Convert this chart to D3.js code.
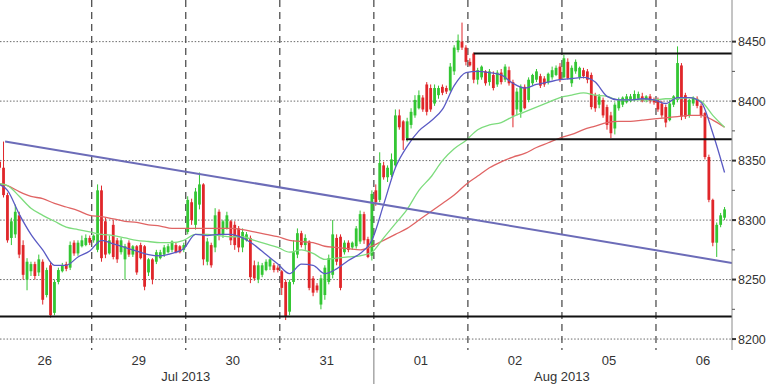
<!DOCTYPE html>
<html><head><meta charset="utf-8">
<script src="https://cdn.jsdelivr.net/npm/d3@7"></script>
<style>html,body{margin:0;padding:0;background:#fff;} svg{display:block;}</style>
</head><body>
<svg id="chart" width="768" height="384"></svg>
<script>
// ---- categories / ticks ----
const dayLabels = ["26","29","30","31","01","02","05","06"];
const dayCenterHours = [12,36,60,84,108,132,156,180];
const monthLabels = ["Jul 2013","Aug 2013"];
const monthCenterHours = [48,144];
const daySeparatorHours = [24,48,72,96,120,144,168];
const monthSeparatorHours = [96];
const yTicks = [8200,8250,8300,8350,8400,8450];
const yMinorTicks = [8225,8275,8325,8375,8425];

// ---- hourly candles (one per hour, trading days only) ----
const openVals = [
 8349,8344,8321,8285,8288,8304,8279,8250,8257,8263,8256,8265,8237,8262,8222,8248,8257,8263,8260,8281,8272,8278,8279,8285,
 8283,8275,8325,8299,8272,8296,8283,8273,8267,8281,8271,8278,8279,8278,8256,8267,8265,8268,8271,8273,8275,8279,8278,8275,
 8290,8315,8296,8313,8330,8265,8279,8277,8307,8288,8293,8299,8296,8293,8277,8283,8285,8262,8250,8254,8258,8261,8262,8260,
 8257,8248,8223,8248,8271,8289,8279,8282,8251,8245,8229,8237,8248,8254,8285,8286,8273,8281,8277,8278,8282,8305,8284,8270,
 8325,8317,8346,8336,8338,8346,8388,8383,8369,8380,8388,8394,8403,8414,8411,8398,8405,8412,8411,8409,8425,8443,8450,8445,
 8433,8440,8418,8420,8425,8416,8422,8414,8424,8418,8426,8416,8393,8391,8412,8401,8415,8418,8421,8419,8416,8420,8422,8429,
 8420,8433,8415,8425,8420,8426,8425,8422,8405,8397,8401,8395,8388,8377,8394,8397,8399,8400,8401,8402,8404,8401,8404,8401,
 8401,8398,8395,8384,8397,8401,8430,8405,8388,8398,8402,8396,8390,8353,8317,8281,8296,8302];
const highVals = [
 8351,8366,8323,8302,8313,8307,8283,8268,8265,8265,8271,8267,8260,8265,8250,8260,8264,8265,8282,8283,8283,8287,8288,8287,
 8288,8330,8329,8302,8287,8300,8285,8285,8280,8283,8279,8279,8281,8279,8268,8268,8275,8275,8279,8280,8283,8281,8279,8281,
 8320,8318,8327,8340,8331,8285,8281,8310,8309,8300,8307,8300,8299,8295,8293,8290,8287,8266,8265,8264,8267,8268,8264,8262,
 8258,8250,8250,8283,8293,8291,8288,8283,8253,8247,8254,8262,8271,8300,8288,8288,8283,8283,8282,8295,8308,8307,8286,8325,
 8330,8357,8349,8346,8356,8393,8393,8384,8386,8394,8405,8409,8405,8416,8414,8414,8413,8414,8413,8432,8447,8456,8466,8447,
 8436,8441,8428,8430,8426,8427,8425,8426,8427,8431,8429,8418,8411,8414,8414,8420,8423,8427,8423,8421,8424,8429,8430,8432,
 8439,8436,8430,8435,8429,8428,8427,8424,8407,8406,8403,8397,8391,8399,8403,8404,8406,8406,8409,8408,8407,8405,8406,8403,
 8403,8400,8397,8401,8405,8446,8432,8407,8402,8404,8404,8398,8391,8355,8318,8298,8306,8311];
const lowVals = [
 8342,8319,8281,8279,8285,8268,8250,8241,8253,8250,8253,8229,8235,8218,8220,8246,8256,8257,8258,8270,8270,8277,8278,8279,
 8281,8273,8265,8268,8271,8267,8264,8271,8250,8269,8269,8254,8267,8241,8253,8246,8263,8267,8269,8272,8273,8272,8272,8273,
 8288,8296,8292,8309,8262,8262,8260,8273,8283,8285,8292,8279,8275,8273,8273,8282,8247,8249,8247,8252,8257,8258,8256,8256,
 8237,8216,8220,8246,8268,8277,8275,8241,8236,8239,8225,8233,8246,8251,8262,8241,8271,8273,8275,8276,8280,8280,8268,8266,
 8312,8315,8334,8332,8336,8344,8376,8359,8366,8377,8386,8393,8391,8388,8391,8396,8402,8405,8406,8408,8422,8441,8443,8430,
 8429,8415,8414,8418,8413,8413,8409,8412,8414,8416,8413,8378,8388,8386,8393,8399,8413,8416,8411,8412,8414,8418,8421,8416,
 8419,8418,8412,8423,8418,8419,8415,8393,8391,8394,8386,8376,8369,8372,8392,8395,8398,8399,8400,8401,8399,8399,8398,8397,
 8391,8386,8378,8383,8395,8399,8384,8385,8386,8396,8394,8386,8351,8315,8278,8269,8294,8300];
const closeVals = [
 8344,8321,8283,8299,8307,8271,8254,8265,8263,8253,8267,8233,8258,8220,8248,8258,8262,8259,8279,8272,8281,8283,8285,8281,
 8287,8325,8268,8271,8283,8269,8267,8283,8278,8271,8278,8256,8268,8244,8267,8250,8273,8273,8277,8278,8282,8273,8273,8279,
 8317,8300,8324,8330,8267,8282,8262,8304,8288,8299,8304,8283,8279,8277,8290,8288,8252,8251,8262,8262,8265,8267,8258,8258,
 8243,8219,8248,8273,8289,8279,8285,8243,8239,8241,8251,8260,8268,8288,8265,8243,8281,8275,8281,8293,8305,8283,8269,8322,
 8315,8348,8336,8344,8351,8388,8378,8367,8383,8391,8401,8405,8393,8391,8393,8411,8411,8407,8408,8429,8445,8451,8445,8433,
 8430,8418,8426,8429,8415,8425,8411,8424,8416,8429,8415,8388,8408,8412,8394,8418,8422,8425,8413,8414,8423,8426,8428,8418,
 8436,8419,8428,8433,8428,8421,8418,8395,8394,8404,8388,8380,8373,8397,8401,8403,8404,8404,8406,8406,8400,8404,8400,8399,
 8393,8388,8382,8398,8404,8432,8387,8387,8401,8403,8396,8388,8353,8317,8281,8296,8304,8309];

// ---- moving averages, read every 3 hours starting at hour -0.5 ----
const maStartHour = -0.5, maStepHours = 3;
const maFast = [8331,8325,8305,8288,8275,8262,8262,8269,8274,8283,8280,8277,8274,8271,8270,8272,8276,8288,8287,8288,
 8288,8285,8279,8271,8263,8255,8263,8262,8255,8259,8266,8272,8283,8313,8344,8362,8375,8383,8393,8413,
 8424,8425,8424,8422,8415,8411,8414,8416,8418,8419,8420,8416,8404,8401,8401,8402,8401,8398,8403,8403,
 8399,8373,8340];
const maMid = [8331,8329,8320,8310,8304,8299,8294,8292,8290,8288,8287,8285,8283,8282,8281,8281,8283,8288,8288,8287,
 8286,8286,8283,8280,8277,8273,8275,8272,8267,8268,8269,8270,8273,8285,8297,8309,8325,8336,8350,8360,
 8367,8376,8380,8382,8387,8391,8395,8399,8403,8405,8407,8405,8404,8401,8401,8401,8401,8402,8402,8403,
 8400,8388,8378];
const maSlow = [8331,8329,8324,8320,8318,8314,8311,8308,8304,8303,8301,8299,8298,8296,8295,8293,8293,8293,8293,8293,
 8293,8292,8290,8288,8286,8283,8282,8281,8278,8277,8276,8275,8278,8283,8288,8293,8300,8307,8314,8321,
 8330,8337,8344,8349,8353,8356,8361,8365,8369,8372,8376,8379,8382,8383,8383,8384,8385,8386,8387,8388,
 8388,8384,8378];

// ---- drawn levels ----
const levelValues = [8219, 8368, 8440];
const levelStartHours = [0.6, 104.2, 121.5];
const trendHours = [1.9, 187.4];
const trendValues = [8366, 8264];

// ---- layout ----
const W = 768, H = 384, plotR = 732, plotB = 350;
const svg = d3.select("#chart");
const x = d3.scaleLinear().domain([0.6, 187.4]).range([0, plotR]);
const y = d3.scaleLinear().domain([8190.8, 8485]).range([plotB, 0]);
const font = "'Liberation Sans', Arial, sans-serif";

svg.append("defs").append("clipPath").attr("id","plotclip")
  .append("rect").attr("x",0).attr("y",0).attr("width",plotR).attr("height",plotB);

// horizontal dotted grid
svg.append("g").selectAll("line").data(yTicks).join("line")
  .attr("x1",0).attr("x2",plotR).attr("y1",d=>y(d)).attr("y2",d=>y(d))
  .attr("stroke","#6a6a6a").attr("stroke-width",1).attr("stroke-dasharray","1.5,1.8");

// day separators
svg.append("g").selectAll("line").data(daySeparatorHours).join("line")
  .attr("x1",d=>x(d)).attr("x2",d=>x(d)).attr("y1",0).attr("y2",plotB)
  .attr("stroke","#505050").attr("stroke-width",1.3).attr("stroke-dasharray","7,5");
svg.append("g").selectAll("line").data(monthSeparatorHours).join("line")
  .attr("x1",d=>x(d)).attr("x2",d=>x(d)).attr("y1",plotB).attr("y2",H)
  .attr("stroke","#9a9a9a").attr("stroke-width",1.3);

const plot = svg.append("g").attr("clip-path","url(#plotclip)");

// candles
const candles = closeVals.map((c,i)=>({h:i+0.5,o:openVals[i],hi:highVals[i],lo:lowVals[i],c:c}));
const up = "#33c633", dn = "#e0262a";
const cg = plot.append("g");
cg.selectAll("line").data(candles).join("line")
  .attr("x1",d=>x(d.h)).attr("x2",d=>x(d.h))
  .attr("y1",d=>y(d.hi)).attr("y2",d=>y(d.lo))
  .attr("stroke",d=>d.c>=d.o?up:dn).attr("stroke-width",1);
const bw = 2.8;
cg.selectAll("rect").data(candles).join("rect")
  .attr("x",d=>x(d.h)-bw/2).attr("width",bw)
  .attr("y",d=>y(Math.max(d.o,d.c)))
  .attr("height",d=>Math.max(1,Math.abs(y(d.o)-y(d.c))))
  .attr("fill",d=>d.c>=d.o?up:dn);

// moving averages
function maLine(vals,color){
  const line = d3.line().x((v,k)=>x(maStartHour+k*maStepHours)).y(v=>y(v)).curve(d3.curveMonotoneX);
  plot.append("path").attr("d",line(vals)).attr("fill","none")
    .attr("stroke",color).attr("stroke-width",1.3);
}
maLine(maSlow,"#e06464");
maLine(maMid,"#7ddc7d");
maLine(maFast,"#5a5ac4");

// horizontal levels
plot.append("g").selectAll("line").data(levelValues).join("line")
  .attr("x1",(d,i)=>x(levelStartHours[i])).attr("x2",plotR)
  .attr("y1",d=>y(d)).attr("y2",d=>y(d))
  .attr("stroke","#111").attr("stroke-width",2);

// trend line
plot.append("line")
  .attr("x1",x(trendHours[0])).attr("y1",y(trendValues[0]))
  .attr("x2",x(trendHours[1])).attr("y2",y(trendValues[1]))
  .attr("stroke","#6c6cb8").attr("stroke-width",2);

// right axis
svg.append("line").attr("x1",plotR).attr("x2",plotR).attr("y1",0).attr("y2",plotB)
  .attr("stroke","#8a8a8a").attr("stroke-width",1);
svg.append("g").selectAll("line").data(yTicks).join("line")
  .attr("x1",plotR).attr("x2",plotR+4).attr("y1",d=>y(d)).attr("y2",d=>y(d))
  .attr("stroke","#333").attr("stroke-width",2);
svg.append("g").selectAll("line").data(yMinorTicks).join("line")
  .attr("x1",plotR).attr("x2",plotR+3).attr("y1",d=>y(d)).attr("y2",d=>y(d))
  .attr("stroke","#555").attr("stroke-width",1);
svg.append("g").selectAll("text").data(yTicks).join("text")
  .attr("x",plotR+6).attr("y",d=>y(d)).attr("dy","0.36em")
  .attr("font-family",font).attr("font-size",12.5).attr("fill","#333")
  .text(d=>d);

// bottom labels
svg.append("g").selectAll("text").data(dayLabels).join("text")
  .attr("x",(d,i)=>x(dayCenterHours[i])).attr("y",365)
  .attr("text-anchor","middle").attr("font-family",font).attr("font-size",13).attr("fill","#333")
  .text(d=>d);
svg.append("g").selectAll("text").data(monthLabels).join("text")
  .attr("x",(d,i)=>x(monthCenterHours[i])).attr("y",381)
  .attr("text-anchor","middle").attr("font-family",font).attr("font-size",13).attr("fill","#333")
  .text(d=>d);
</script>
</body></html>
